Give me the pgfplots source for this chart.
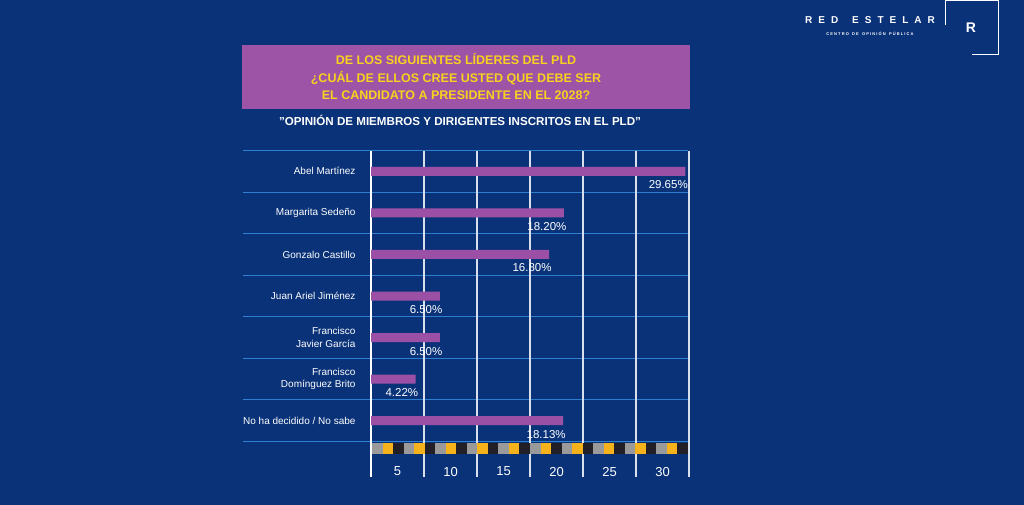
\documentclass[border=0pt]{standalone}
\usepackage{pgfplots}
\pgfplotsset{compat=1.18}
\usepackage{fontspec}
\setmainfont{Liberation Sans}
\definecolor{bg}{HTML}{0A3278}
\definecolor{barc}{HTML}{9B50A5}
\definecolor{boxc}{HTML}{9D53A6}
\definecolor{ttl}{HTML}{F7D21E}
\definecolor{rowl}{HTML}{2F7FD0}
\definecolor{sgray}{HTML}{9A9A9A}
\definecolor{syel}{HTML}{F6B21A}
\definecolor{sblk}{HTML}{222026}
\begin{document}
\begin{tikzpicture}[x=1pt,y=1pt]
\fill[bg] (0,0) rectangle (1024,504);
% title box
\fill[boxc] (242,396) rectangle (690,459);
\node[text=ttl,font=\bfseries\fontsize{12.5}{17.5}\selectfont,align=center] at (456,427.5) {DE LOS SIGUIENTES LÍDERES DEL PLD\\¿CUÁL DE ELLOS CREE USTED QUE DEBE SER\\EL CANDIDATO A PRESIDENTE EN EL 2028?};
\node[text=white,font=\bfseries\fontsize{11.6}{12}\selectfont] at (460,384) {\symbol{34}OPINIÓN DE MIEMBROS Y DIRIGENTES INSCRITOS EN EL PLD\symbol{34}};
% logo
\node[text=white,font=\bfseries\fontsize{10}{10}\selectfont] at (870,484) {R\hspace{6pt}E\hspace{6pt}D\hspace{14pt}E\hspace{6pt}S\hspace{6pt}T\hspace{6pt}E\hspace{6pt}L\hspace{6pt}A\hspace{6pt}R};
\node[text=white,font=\bfseries\fontsize{4}{4}\selectfont] at (870,471) {C E N T R O\ \ \ D E\ \ \ O P I N I Ó N\ \ \ P Ú B L I C A};
\draw[white,line width=1pt] (945,479) -- (945,504) -- (998,504) -- (998,450) -- (972,450);
\node[text=white,font=\bfseries\fontsize{14}{14}\selectfont] at (971,477) {R};
% row lines
\foreach \k in {0,...,7} {\draw[rowl,line width=0.9pt] (243,{354-41.57*\k}) -- (688,{354-41.57*\k});}
% vertical grid
\foreach \k in {1,...,6} {\draw[white!85!bg,line width=1.2pt] ({371+53*\k},28) -- ({371+53*\k},354);}
\draw[white,line width=2pt] (371,28) -- (371,354);
% strip
\foreach \i in {0,...,9} {
 \fill[sgray] ({372+31.6*\i},51) rectangle ({382.5+31.6*\i},62);
 \fill[syel] ({382.5+31.6*\i},51) rectangle ({393+31.6*\i},62);
 \fill[sblk] ({393+31.6*\i},51) rectangle ({403.6+31.6*\i},62);}
\begin{axis}[at={(371pt,63pt)},anchor=south west,scale only axis,
 width=318pt,height=291pt,xmin=0,xmax=30,ymin=0,ymax=7,
 axis lines=none,clip=false,
 xbar,bar width=9pt,
 ytick={0.5,1.5,...,6.5},
 yticklabels={No ha decidido / No sabe,{Francisco\\Domínguez Brito},{Francisco\\Javier García},Juan Ariel Jiménez,Gonzalo Castillo,Margarita Sedeño,Abel Martínez},
 yticklabel style={text=white,font=\fontsize{10}{12.5}\selectfont,align=right,xshift=-12pt},
 xtick={2.5,7.5,...,27.5},xticklabels={5,10,15,20,25,30},
 xticklabel style={text=white,font=\fontsize{13}{14}\selectfont,yshift=-22pt},
 nodes near coords={\pgfmathprintnumber[fixed,fixed zerofill,precision=2,assume math mode=true]{\pgfplotspointmeta}\%},
 every node near coord/.append style={text=white,font=\fontsize{11.5}{12}\selectfont,anchor=north east,xshift=6pt,yshift=-6pt},
 hide axis=false, axis line style={draw=none}, major tick length=0pt]
\addplot[fill=barc,draw=none] coordinates {(18.13,0.5) (4.22,1.5) (6.50,2.5) (6.50,3.5) (16.80,4.5) (18.20,5.5) (29.65,6.5)};
\end{axis}
\end{tikzpicture}
\end{document}
